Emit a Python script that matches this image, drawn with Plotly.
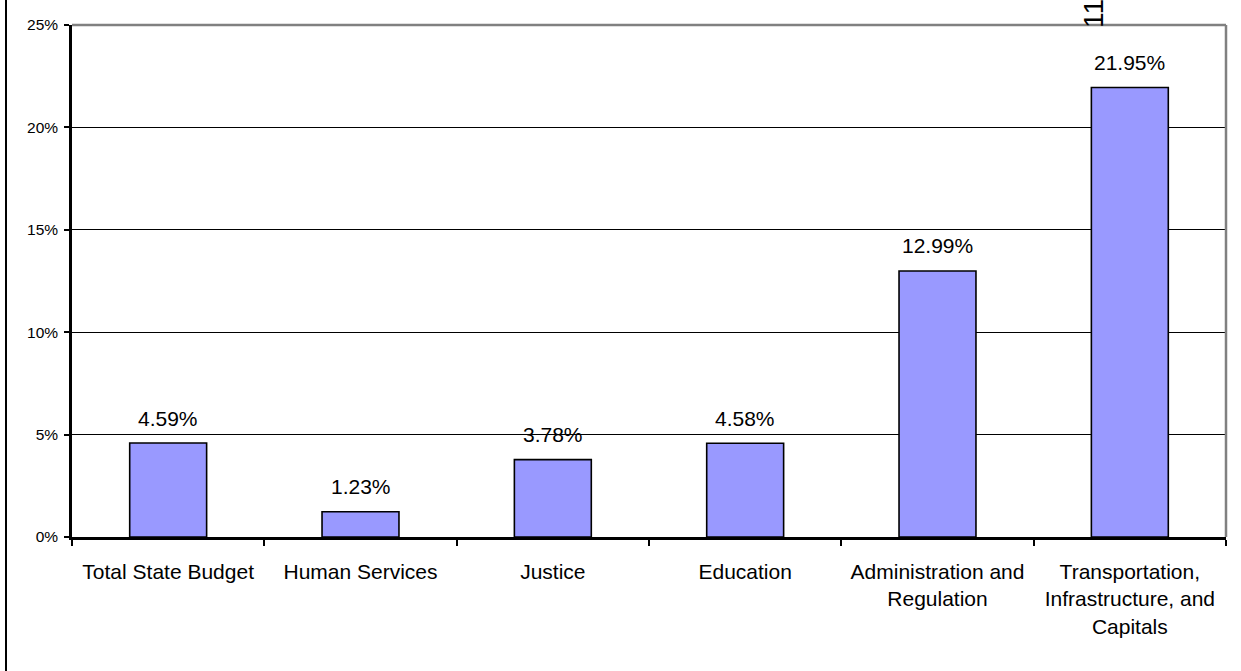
import plotly.graph_objects as go

# Percent change by budget area
categories = [
    "Total State Budget",
    "Human Services",
    "Justice",
    "Education",
    "Administration and<br>Regulation",
    "Transportation,<br>Infrastructure, and<br>Capitals",
]
values = [4.59, 1.23, 3.78, 4.58, 12.99, 21.95]
value_labels = ["4.59%", "1.23%", "3.78%", "4.58%", "12.99%", "21.95%"]
y_ticks = [0, 5, 10, 15, 20, 25]
y_tick_text = ["0%", "5%", "10%", "15%", "20%", "25%"]

W, H = 1241, 671
ML, MR, MT, MB = 72, 15, 25, 134
PW, PH = W - ML - MR, H - MT - MB

fig = go.Figure()
fig.add_trace(go.Bar(
    x=categories,
    y=values,
    width=0.4,
    marker=dict(color="#9999FF", line=dict(color="black", width=1.6)),
    hoverinfo="skip",
))

# value labels above each bar
for cat, val, lab in zip(categories, values, value_labels):
    fig.add_annotation(
        x=cat, y=val, text=lab, showarrow=False,
        xanchor="center", yanchor="middle", yshift=25,
        font=dict(family="Arial", size=21, color="black"),
    )

# page mark at top, rotated
fig.add_annotation(
    xref="paper", yref="paper",
    x=(1093 - ML) / PW, y=1 + (MT - 14) / PH,
    xanchor="center", yanchor="middle",
    text="11", textangle=-90, showarrow=False,
    font=dict(family="Arial", size=28, color="black"),
)

shapes = [
    # gray frame on top and right
    dict(type="line", xref="paper", yref="paper", x0=0, x1=1, y0=1, y1=1,
         line=dict(color="#808080", width=2.5), layer="above"),
    dict(type="line", xref="paper", yref="paper", x0=1, x1=1, y0=0, y1=1,
         line=dict(color="#808080", width=2.5), layer="above"),
    # page rule on the left
    dict(type="line", xref="paper", yref="paper",
         x0=(6 - ML) / PW, x1=(6 - ML) / PW,
         y0=-MB / PH, y1=1 + MT / PH,
         line=dict(color="black", width=2)),
]

fig.update_layout(
    width=W, height=H,
    margin=dict(l=ML, r=MR, t=MT, b=MB),
    paper_bgcolor="white",
    plot_bgcolor="white",
    showlegend=False,
    shapes=shapes,
    font=dict(family="Arial", color="black"),
    bargap=0.6,
)

fig.update_xaxes(
    type="category",
    tickson="boundaries",
    ticks="outside", ticklen=6, tickwidth=1.5, tickcolor="black",
    showline=True, linecolor="black", linewidth=2.5,
    showgrid=False,
    tickfont=dict(family="Arial", size=21, color="black"),
    ticklabelstandoff=14,
    range=[-0.5, 5.5],
)

fig.update_yaxes(
    range=[0, 25],
    tickvals=y_ticks, ticktext=y_tick_text,
    ticks="outside", ticklen=5, tickwidth=2, tickcolor="black",
    showline=True, linecolor="black", linewidth=2.5,
    showgrid=True, gridcolor="black", gridwidth=1,
    zeroline=False,
    tickfont=dict(family="Arial", size=15.5, color="black"),
    ticklabelstandoff=3,
)

fig.write_html("out.html")
